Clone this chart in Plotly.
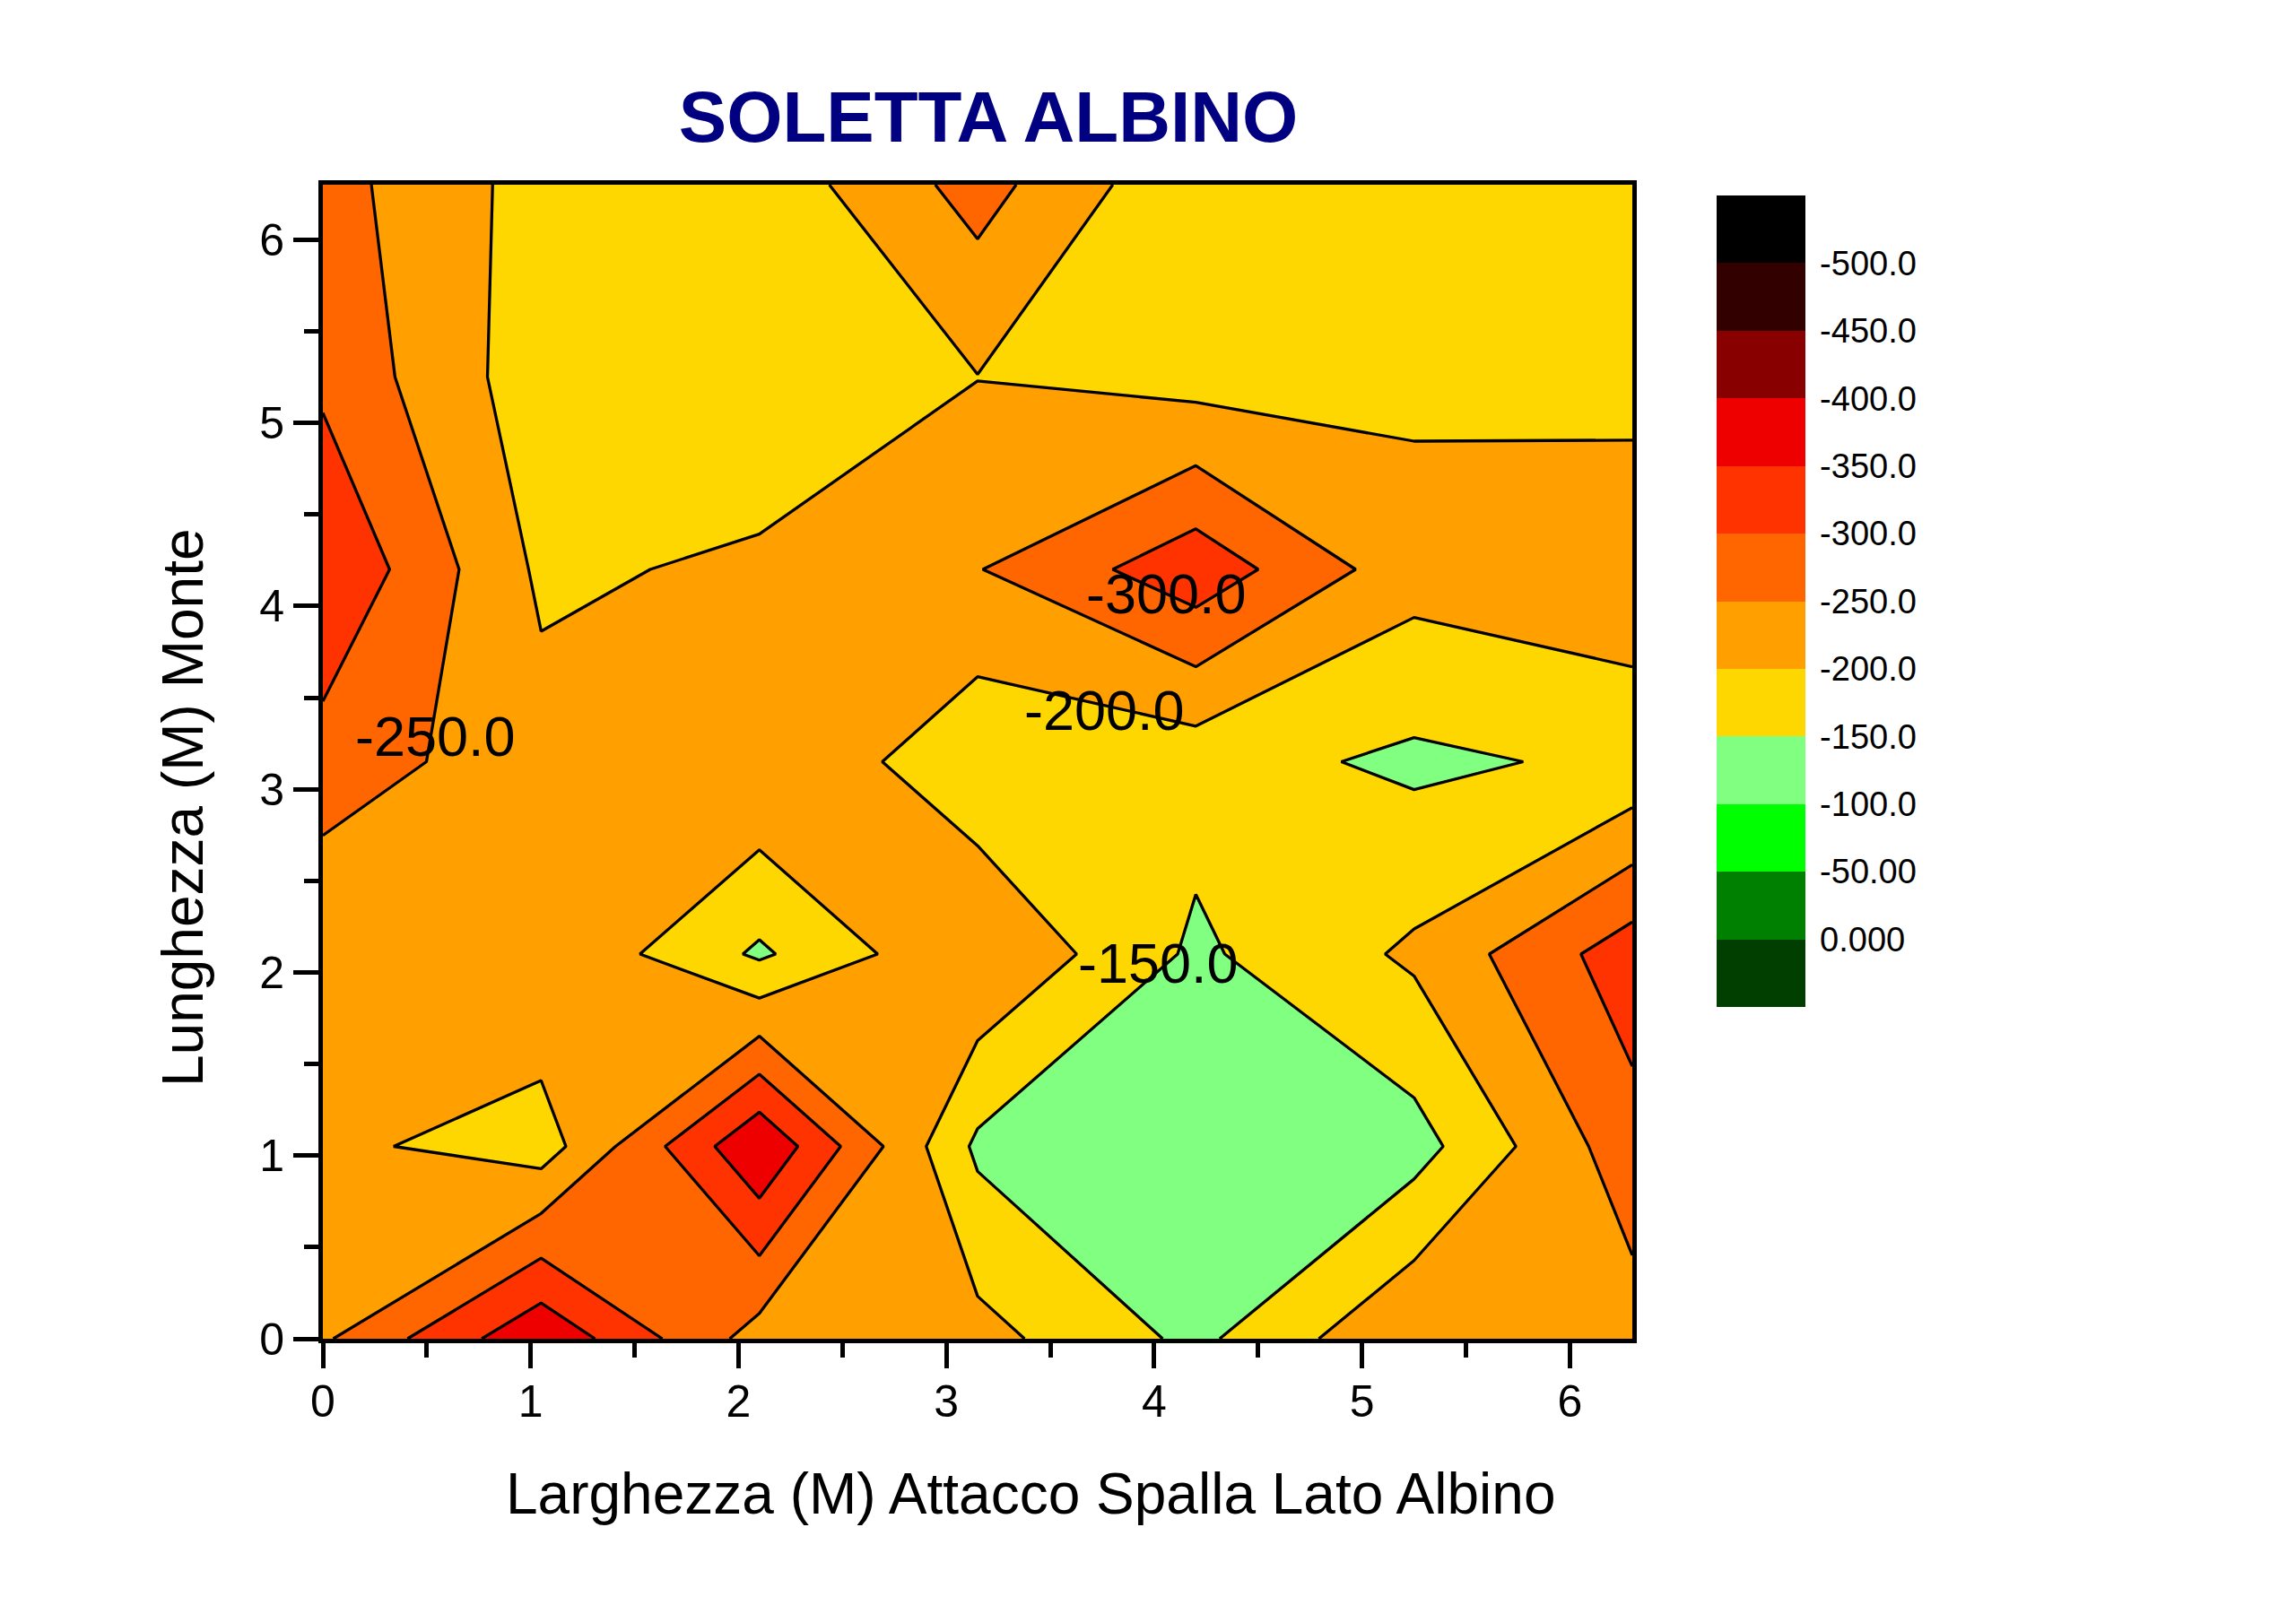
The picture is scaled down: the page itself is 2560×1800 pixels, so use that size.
import plotly.graph_objects as go

# ---------------- data ----------------
x_width_m = [0, 1.05, 2.1, 3.15, 4.2, 5.25, 6.3]      # Larghezza (M)
y_length_m = [0, 1.05, 2.1, 3.15, 4.2, 5.25, 6.3]     # Lunghezza (M)

# one row per y value (bottom -> top), one column per x value
z_y000 = [-243, -390, -228, -217, -138, -248, -227]
z_y105 = [-212, -175, -395, -140, -115, -130, -280]
z_y210 = [-205, -248, -142, -249, -141, -209, -328]
z_y315 = [-278, -219, -249, -162, -170, -140, -160]
z_y420 = [-348, -191, -209, -248, -332, -220, -241]
z_y525 = [-289, -171, -160, -199, -180, -190, -180]
z_y630 = [-270, -180, -167, -270, -157, -170, -165]
z_rows = [z_y000, z_y105, z_y210, z_y315, z_y420, z_y525, z_y630]

level_values = [0, -50, -100, -150, -200, -250, -300, -350, -400, -450, -500]
level_text = ["0.000", "-50.00", "-100.0", "-150.0", "-200.0", "-250.0",
              "-300.0", "-350.0", "-400.0", "-450.0", "-500.0"]
# band colours from highest (>0) to lowest (<-500)
band_colors = ["#003F00", "#008000", "#00FF00", "#80FF80", "#FFD700", "#FFA000",
               "#FF6600", "#FF3300", "#EE0000", "#880000", "#330000", "#000000"]

contour_label_text = ["-300.0", "-250.0", "-200.0", "-150.0"]
contour_label_x = [4.06, 0.54, 3.76, 4.02]
contour_label_y = [4.07, 3.29, 3.43, 2.05]

# ---------------- figure ----------------
FONT = "Arial, Liberation Sans, sans-serif"
# plotted as depth (negated) so that the colour bar runs from 0 (bottom) to -500 (top)
z_plot = [[-v for v in row] for row in z_rows]
n = len(band_colors) - 1
colorscale = [[k / n, c] for k, c in enumerate(band_colors)]
tickvals = [-v for v in level_values]

OFF = 8                      # default page (body) margin of the html page
W, H = 2560 - OFF, 1800 - OFF
PL, PR, PT, PB = 360, 1820, 206, 1493          # plot area in page pixels
L, T = PL - OFF, PT - OFF
R, B = W - (PR - OFF), H - (PB - OFF)
PW, PH = PR - PL, PB - PT


def px(xp):
    return (xp - PL) / PW


def py(yp):
    return (PB - yp) / PH


fig = go.Figure()
fig.add_trace(go.Contour(
    x=x_width_m, y=y_length_m, z=z_plot,
    customdata=z_rows,
    hovertemplate="x=%{x}<br>y=%{y}<br>z=%{customdata}<extra></extra>",
    autocontour=False,
    contours=dict(start=0, end=500, size=50, coloring="fill", showlines=False),
    colorscale=colorscale, zmin=-50, zmax=550,
    line=dict(width=0, smoothing=0),
    colorbar=dict(
        tickvals=tickvals, ticktext=level_text,
        tickfont=dict(family=FONT, size=38, color="black"),
        ticks="outside", ticklen=9, tickcolor="rgba(0,0,0,0)",
        outlinewidth=0,
        thicknessmode="pixels", thickness=99,
        lenmode="pixels", len=905,
        x=px(1914), xanchor="left", xpad=0,
        y=py(218), yanchor="top", ypad=0,
    ),
))
fig.add_trace(go.Contour(
    x=x_width_m, y=y_length_m, z=z_plot,
    autocontour=False,
    contours=dict(start=0, end=500, size=50, coloring="none", showlines=True),
    line=dict(color="black", width=3.3, smoothing=0),
    showscale=False, hoverinfo="skip",
))

annotations = []
for txt, xv, yv in zip(contour_label_text, contour_label_x, contour_label_y):
    annotations.append(dict(x=xv, y=yv, xref="x", yref="y", text=txt, showarrow=False,
                            font=dict(family=FONT, size=63, color="black"),
                            xanchor="center", yanchor="middle"))
annotations.append(dict(x=px(1149), y=py(1666), xref="paper", yref="paper",
                        text="Larghezza (M) Attacco Spalla Lato Albino", showarrow=False,
                        font=dict(family=FONT, size=64, color="black"),
                        xanchor="center", yanchor="middle"))
annotations.append(dict(x=px(204), y=py(901), xref="paper", yref="paper",
                        text="Lunghezza (M) Monte", showarrow=False, textangle=-90,
                        font=dict(family=FONT, size=64, color="black"),
                        xanchor="center", yanchor="middle"))

axis_common = dict(
    range=[0, 6.3], dtick=1, tick0=0, showgrid=False, zeroline=False,
    showline=True, mirror=True, linecolor="black", linewidth=5,
    ticks="outside", ticklen=28, tickwidth=5, tickcolor="black",
    tickfont=dict(family=FONT, size=50, color="black"),
    minor=dict(ticks="outside", ticklen=16, tickwidth=5, tickcolor="black", dtick=0.5),
)

fig.update_layout(
    width=W, height=H,
    margin=dict(l=L, r=R, t=T, b=B, autoexpand=False),
    paper_bgcolor="white", plot_bgcolor="white",
    title=dict(text="<b>SOLETTA ALBINO</b>", x=px(1102), xref="paper",
               xanchor="center", y=1 - (130 - OFF) / H, yanchor="middle",
               font=dict(family=FONT, size=80, color="#000080")),
    xaxis=dict(**axis_common, ticklabelstandoff=-6),
    yaxis=dict(**axis_common),
    annotations=annotations,
)
fig.write_html("out.html")
